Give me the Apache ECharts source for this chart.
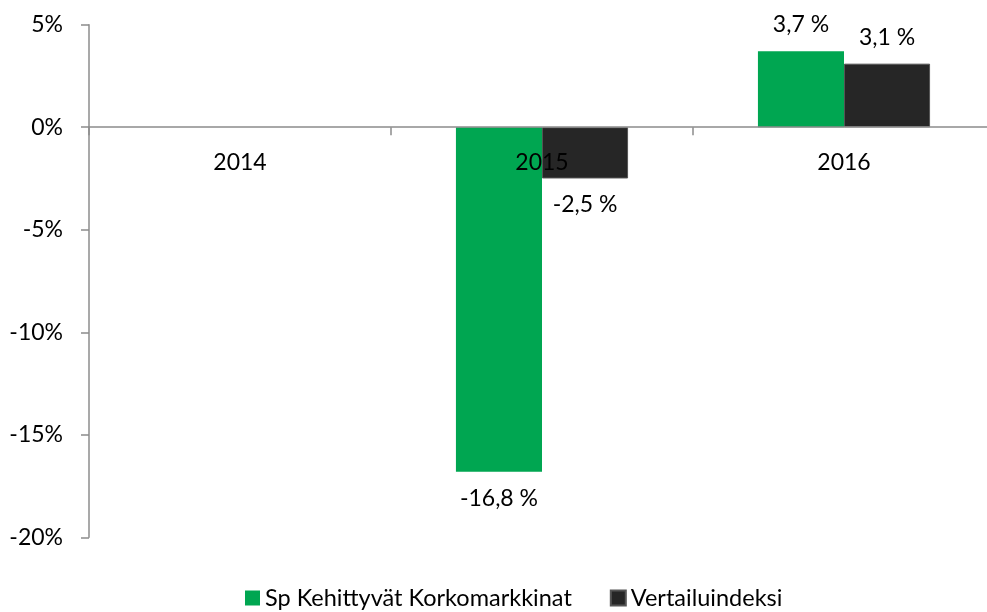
<!DOCTYPE html>
<html>
<head>
<meta charset="utf-8">
<script src="https://cdn.jsdelivr.net/npm/echarts@6/dist/echarts.min.js"></script>
<style>
html,body{margin:0;padding:0;background:#fff;}
#chart{width:987px;height:612px;}
</style>
</head>
<body>
<div id="chart"></div>
<script>
const categories = ['2014', '2015', '2016'];
const seriesNames = ['Sp Kehittyvät Korkomarkkinat', 'Vertailuindeksi'];
const fundValues = [null, -16.8, 3.7];
const indexValues = [null, -2.5, 3.1];
const yTicks = [-20, -15, -10, -5, 0, 5];

const FONT = 'Lato';
const FS = 23;

function fmt(v) {
  return v.toFixed(1).replace('.', ',') + ' %';
}

const chart = echarts.init(document.getElementById('chart'), null, {renderer: 'canvas'});

const labelCfg = {
  show: true,
  position: 'outside',
  distance: 15,
  fontFamily: FONT,
  fontSize: FS,
  color: '#000',
  formatter: p => (p.value == null ? '' : fmt(p.value))
};

chart.setOption({
  animation: false,
  backgroundColor: '#fff',
  grid: {left: 89, top: 24.7, width: 906, height: 512.6, containLabel: false, outerBoundsMode: 'none'},
  legend: {
    left: 240,
    top: 581,
    itemWidth: 15,
    itemHeight: 15,
    itemGap: 38,
    icon: 'rect',
    textStyle: {fontFamily: FONT, fontSize: 23.5, color: '#000'},
    data: seriesNames
  },
  xAxis: {
    type: 'category',
    z: 10,
    data: categories,
    axisLine: {onZero: false, lineStyle: {color: '#8c8c8c', width: 1.5}},
    axisTick: {show: true, length: 8, lineStyle: {color: '#8c8c8c', width: 1.5}},
    axisLabel: {fontFamily: FONT, fontSize: FS, color: '#000', margin: 24},
    splitLine: {show: false}
  },
  yAxis: {
    type: 'value',
    min: yTicks[0],
    max: yTicks[yTicks.length - 1],
    interval: 5,
    axisLine: {show: true, lineStyle: {color: '#8c8c8c', width: 1.5}},
    axisTick: {show: true, length: 8, lineStyle: {color: '#8c8c8c', width: 1.5}},
    axisLabel: {fontFamily: FONT, fontSize: FS, color: '#000', margin: 26, formatter: '{value}%'},
    splitLine: {show: false}
  },
  series: [
    {
      name: seriesNames[0],
      type: 'bar',
      data: fundValues,
      barGap: '0%',
      barCategoryGap: '43%',
      itemStyle: {color: '#00A651'},
      label: labelCfg
    },
    {
      name: seriesNames[1],
      type: 'bar',
      data: indexValues,
      barGap: '0%',
      barCategoryGap: '43%',
      itemStyle: {color: '#262626', borderColor: '#555', borderWidth: 1},
      label: labelCfg
    }
  ]
});

// Move the category axis (line, ticks, labels) up to the zero line, as in the reference.
const zeroY = chart.convertToPixel({yAxisIndex: 0}, 0);
const bottomY = chart.convertToPixel({yAxisIndex: 0}, yTicks[0]);
chart.setOption({xAxis: {offset: zeroY - bottomY}});
</script>
</body>
</html>
